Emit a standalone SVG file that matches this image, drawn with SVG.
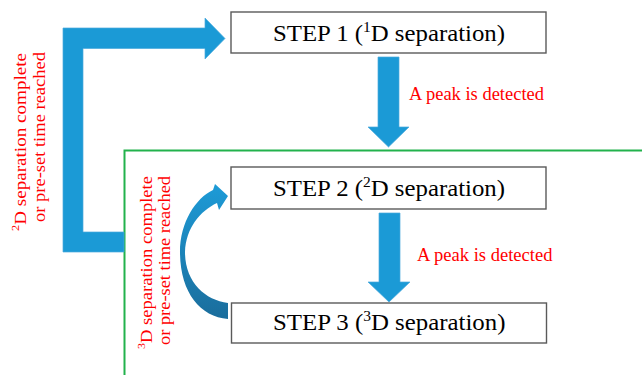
<svg xmlns="http://www.w3.org/2000/svg" width="642" height="375" viewBox="0 0 642 375">
  <defs>
    <style>
      .box { fill: #ffffff; stroke: #5a5a5a; stroke-width: 1.4; }
      .step { font-family: "Liberation Serif", "Times New Roman", serif; font-size: 24px; fill: #000000; }
      .lbl { font-family: "Liberation Serif", "Times New Roman", serif; font-size: 18.5px; fill: #ff0000; }
      .vlbl { font-family: "Liberation Serif", "Times New Roman", serif; font-size: 17px; fill: #ff0000; }
      .blue { fill: #1b9ad6; stroke: #4aa9dc; stroke-width: 0.7; }
      .green { fill: none; stroke: #22b24c; stroke-width: 2; }
    </style>
    <linearGradient id="curveGrad" x1="0" y1="0" x2="0" y2="1">
      <stop offset="0" stop-color="#1d9bd7"/>
      <stop offset="1" stop-color="#1a6d9c"/>
    </linearGradient>
  </defs>

  <rect width="642" height="375" fill="#ffffff"/>

  <g id="region">
    <polyline class="green" points="642,150.5 124.5,150.5 124.5,375"/>
  </g>

  <g id="connectors">
    <polygon id="return-to-step1" class="blue" points="63,28 205,28 205,18 225,38.5 205,59 205,48.5 83,48.5 83,232 124,232 124,252 63,252"/>
    <polygon id="step1-to-step2" class="blue" points="378,57 399,57 399,127 409,127 388.5,147 368,127 378,127"/>
    <polygon id="step2-to-step3" class="blue" points="379,213 400,213 400,282 410,282 389,302 368,282 379,282"/>
    <path id="step3-to-step2" fill="url(#curveGrad)" d="M228,319 C200,317 180,292 180,252 C180,222 196,198 213,190 L215,184 L228,196 L219,210 L217,203 C200,211 186,228 185,252 C185,282 205,300 228,303 Z"/>
  </g>

  <g id="step1">
    <rect class="box" x="231" y="12" width="315" height="41"/>
    <text class="step" x="273" y="41" textLength="232" lengthAdjust="spacingAndGlyphs">STEP 1 (<tspan font-size="15" dy="-9">1</tspan><tspan dy="9">D separation)</tspan></text>
  </g>

  <g id="step2">
    <rect class="box" x="231" y="167" width="315" height="42"/>
    <text class="step" x="273" y="196" textLength="232" lengthAdjust="spacingAndGlyphs">STEP 2 (<tspan font-size="15" dy="-9">2</tspan><tspan dy="9">D separation)</tspan></text>
  </g>

  <g id="step3">
    <rect class="box" x="231.5" y="303" width="315" height="40"/>
    <text class="step" x="273" y="330" textLength="232.5" lengthAdjust="spacingAndGlyphs">STEP 3 (<tspan font-size="15" dy="-9">3</tspan><tspan dy="9">D separation)</tspan></text>
  </g>

  <g id="labels">
    <text class="lbl" x="409" y="100" textLength="135" lengthAdjust="spacingAndGlyphs">A peak is detected</text>
    <text class="lbl" x="417" y="260.5" textLength="135.5" lengthAdjust="spacingAndGlyphs">A peak is detected</text>

    <g transform="rotate(-90)">
      <text class="vlbl" x="-231" y="26" textLength="178" lengthAdjust="spacingAndGlyphs"><tspan font-size="11" dy="-7">2</tspan><tspan dy="7">D separation complete</tspan></text>
      <text class="vlbl" x="-222" y="45" textLength="170" lengthAdjust="spacingAndGlyphs">or pre-set time reached</text>
      <text class="vlbl" x="-349" y="151.5" textLength="173" lengthAdjust="spacingAndGlyphs"><tspan font-size="11" dy="-7">3</tspan><tspan dy="7">D separation complete</tspan></text>
      <text class="vlbl" x="-345" y="170" textLength="169" lengthAdjust="spacingAndGlyphs">or pre-set time reached</text>
    </g>
  </g>
</svg>
